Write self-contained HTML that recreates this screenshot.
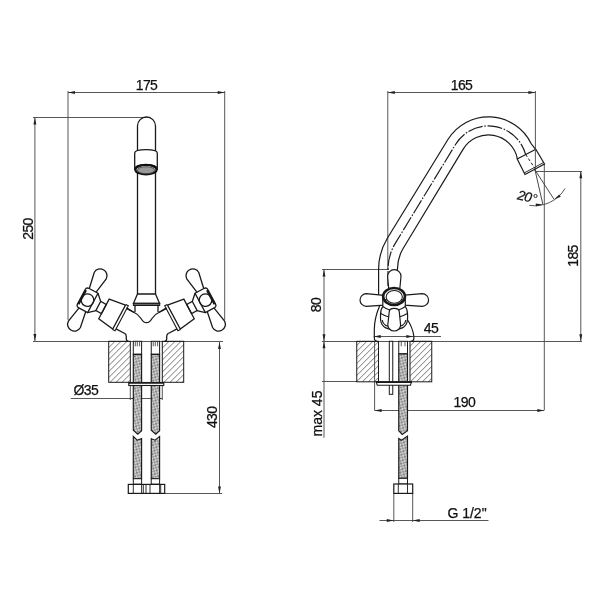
<!DOCTYPE html>
<html><head><meta charset="utf-8"><style>
html,body{margin:0;padding:0;background:#fff;width:600px;height:600px;overflow:hidden}
svg{display:block;will-change:transform}
text{font-family:"Liberation Sans",sans-serif;fill:#111;stroke:#111;stroke-width:0.25px}
</style></head><body>
<svg width="600" height="600" viewBox="0 0 600 600">
<line x1="68" y1="92.5" x2="224.7" y2="92.5" stroke="#444" stroke-width="0.9" fill="none"/>
<polygon points="68.00,92.50 75.00,91.05 75.00,93.95" fill="#222"/>
<polygon points="224.70,92.50 217.70,93.95 217.70,91.05" fill="#222"/>
<text x="146.5" y="90" font-size="14" text-anchor="middle" letter-spacing="-0.6">175</text>
<line x1="68" y1="91" x2="68" y2="320" stroke="#444" stroke-width="0.9" fill="none"/>
<line x1="224.7" y1="91" x2="224.7" y2="320" stroke="#444" stroke-width="0.9" fill="none"/>
<line x1="34.9" y1="117.5" x2="34.9" y2="341" stroke="#444" stroke-width="0.9" fill="none"/>
<polygon points="34.90,117.50 36.35,124.50 33.45,124.50" fill="#222"/>
<polygon points="34.90,341.00 33.45,334.00 36.35,334.00" fill="#222"/>
<line x1="33" y1="117.5" x2="146" y2="117.5" stroke="#444" stroke-width="0.9" fill="none"/>
<text x="32.5" y="229" font-size="14" text-anchor="middle" letter-spacing="-0.6" transform="rotate(-90 32.5 229)">250</text>
<line x1="33" y1="341.5" x2="223" y2="341.5" stroke="#444" stroke-width="0.9" fill="none"/>
<line x1="219.5" y1="342" x2="219.5" y2="493.5" stroke="#444" stroke-width="0.9" fill="none"/>
<polygon points="219.50,342.00 220.95,349.00 218.05,349.00" fill="#222"/>
<polygon points="219.50,493.50 218.05,486.50 220.95,486.50" fill="#222"/>
<text x="217.5" y="417.3" font-size="14" text-anchor="middle" letter-spacing="-0.6" transform="rotate(-90 217.5 417.3)">430</text>
<line x1="164" y1="493.5" x2="222" y2="493.5" stroke="#444" stroke-width="0.9" fill="none"/>
<text x="73.5" y="394.5" font-size="14" text-anchor="start" letter-spacing="-0.6">Ø35</text>
<line x1="70.8" y1="398.5" x2="162" y2="398.5" stroke="#444" stroke-width="0.9" fill="none"/>
<polygon points="130.30,398.50 137.30,397.05 137.30,399.95" fill="#222"/>
<polygon points="162.30,398.50 155.30,399.95 155.30,397.05" fill="#222"/>
<line x1="130.3" y1="385" x2="130.3" y2="400" stroke="#444" stroke-width="0.9" fill="none"/>
<line x1="162.3" y1="385" x2="162.3" y2="400" stroke="#444" stroke-width="0.9" fill="none"/>
<line x1="387.8" y1="92.5" x2="535.4" y2="92.5" stroke="#444" stroke-width="0.9" fill="none"/>
<polygon points="387.80,92.50 394.80,91.05 394.80,93.95" fill="#222"/>
<polygon points="535.40,92.50 528.40,93.95 528.40,91.05" fill="#222"/>
<text x="461.5" y="89.5" font-size="14" text-anchor="middle" letter-spacing="-0.6">165</text>
<line x1="387.8" y1="91" x2="387.8" y2="270" stroke="#444" stroke-width="0.9" fill="none"/>
<line x1="536" y1="171.5" x2="582" y2="171.5" stroke="#444" stroke-width="0.9" fill="none"/>
<line x1="580.8" y1="171.3" x2="580.8" y2="341.2" stroke="#444" stroke-width="0.9" fill="none"/>
<polygon points="580.80,171.30 582.25,178.30 579.35,178.30" fill="#222"/>
<polygon points="580.80,341.20 579.35,334.20 582.25,334.20" fill="#222"/>
<text x="577.7" y="256" font-size="14" text-anchor="middle" letter-spacing="-0.6" transform="rotate(-90 577.7 256)">185</text>
<line x1="544.3" y1="164" x2="544.3" y2="410" stroke="#444" stroke-width="0.9" fill="none"/>
<line x1="324" y1="269.5" x2="324" y2="341.25" stroke="#444" stroke-width="0.9" fill="none"/>
<polygon points="324.00,269.50 325.45,276.50 322.55,276.50" fill="#222"/>
<polygon points="324.00,341.25 322.55,334.25 325.45,334.25" fill="#222"/>
<line x1="322" y1="269.5" x2="389" y2="269.5" stroke="#444" stroke-width="0.9" fill="none"/>
<text x="321" y="305" font-size="14" text-anchor="middle" letter-spacing="-0.6" transform="rotate(-90 321 305)">80</text>
<line x1="322" y1="341.5" x2="582" y2="341.5" stroke="#444" stroke-width="0.9" fill="none"/>
<line x1="324" y1="341.3" x2="324" y2="437.8" stroke="#444" stroke-width="0.9" fill="none"/>
<polygon points="324.00,341.30 325.45,348.30 322.55,348.30" fill="#222"/>
<line x1="322" y1="381.5" x2="357" y2="381.5" stroke="#444" stroke-width="0.9" fill="none"/>
<text x="322" y="413.5" font-size="14" text-anchor="middle" letter-spacing="0" transform="rotate(-90 322 413.5)">max 45</text>
<line x1="373.75" y1="336.5" x2="441" y2="336.5" stroke="#444" stroke-width="0.9" fill="none"/>
<polygon points="373.75,336.50 380.75,335.05 380.75,337.95" fill="#222"/>
<polygon points="413.30,336.50 406.30,337.95 406.30,335.05" fill="#222"/>
<text x="431" y="333.3" font-size="14" text-anchor="middle" letter-spacing="-0.6">45</text>
<line x1="374.6" y1="341" x2="374.6" y2="410.5" stroke="#444" stroke-width="0.9" fill="none"/>
<line x1="374.6" y1="410.5" x2="544.3" y2="410.5" stroke="#444" stroke-width="0.9" fill="none"/>
<polygon points="374.60,410.50 381.60,409.05 381.60,411.95" fill="#222"/>
<polygon points="544.30,410.50 537.30,411.95 537.30,409.05" fill="#222"/>
<text x="464.3" y="407" font-size="14" text-anchor="middle" letter-spacing="-0.6">190</text>
<line x1="393.8" y1="493" x2="393.8" y2="522" stroke="#444" stroke-width="0.9" fill="none"/>
<line x1="412.7" y1="493" x2="412.7" y2="522" stroke="#444" stroke-width="0.9" fill="none"/>
<line x1="379.5" y1="520.5" x2="488.5" y2="520.5" stroke="#444" stroke-width="0.9" fill="none"/>
<polygon points="393.80,520.50 386.80,521.95 386.80,519.05" fill="#222"/>
<polygon points="412.70,520.50 419.70,519.05 419.70,521.95" fill="#222"/>
<text x="467" y="518" font-size="14" text-anchor="middle" letter-spacing="0">G 1/2"</text>
<path d="M137.5,294 V126 A9,9 0 0 1 155.5,126 V294" stroke="#1a1a1a" stroke-width="1.3" fill="none"/>
<path d="M134.7,153 Q134.7,149.7 146,149.7 Q157.3,149.7 157.3,153 V170 Q157.3,164.5 146,164.5 Q134.7,164.5 134.7,170 Z" fill="#fff" stroke="#1a1a1a" stroke-width="1.3" />
<ellipse cx="146" cy="169.7" rx="10.6" ry="4.7" fill="#fff" stroke="#111" stroke-width="2.2"/>
<ellipse cx="146" cy="170.2" rx="8.6" ry="3.5" fill="#999" stroke="#333" stroke-width="0.8"/>
<path d="M137.5,294 H155.5 L159.5,303.3 H133.5 Z" stroke="#1a1a1a" stroke-width="1.3" fill="none"/>
<rect x="133.4" y="303.3" width="26.3" height="2.2" fill="#666" stroke="#1a1a1a" stroke-width="1"/>
<path d="M126.5,307.9 L134.2,312.5 Q138,314 141,318.5 Q143.5,322.7 146.5,322.7 Q149.5,322.7 152,318.5 Q155,314 158.8,312.5 L166.5,307.9" stroke="#1a1a1a" stroke-width="1.3" fill="none"/>
<path d="M135,305.3 V312 M158,305.3 V312" stroke="#1a1a1a" stroke-width="1.3" fill="none"/>
<path d="M124.3,333.2 Q126.3,334.2 126.3,336.5 V339 Q126.5,341.3 128.5,341.4 M168.7,333.2 Q166.7,334.2 166.7,336.5 V339 Q166.5,341.3 164.5,341.4" stroke="#1a1a1a" stroke-width="1.3" fill="none"/>
<g transform="translate(87.5,300.1) rotate(28)"><path d="M-3.8,-10.8 L-7,-27.5 A6.8,6.8 0 0 1 6.6,-27.5 L3.8,-10.8" stroke="#1a1a1a" stroke-width="1.3" fill="none"/>
<path d="M-3.8,10.8 L-7,27.5 A6.8,6.8 0 0 0 6.6,27.5 L3.8,10.8" stroke="#1a1a1a" stroke-width="1.3" fill="none"/>
<path d="M-4,-11 H6 V11 H-4 Q-7,11 -7,8 V-8 Q-7,-11 -4,-11 Z" fill="#fff" stroke="#1a1a1a" stroke-width="1.3" />
<path d="M-6,-8 V8" stroke="#1a1a1a" stroke-width="2.2"/>
<circle cx="0" cy="0" r="6.3" stroke="#1a1a1a" stroke-width="1.3" fill="none"/>
<path d="M6,-11 L12.3,-5 M6,11 L12.5,5.3" stroke="#1a1a1a" stroke-width="1.3" fill="none"/>
<path d="M12.3,-5 H18.6 V5.3 H12.3 Z" stroke="#1a1a1a" stroke-width="1.3" fill="none"/>
<path d="M18.7,-11 L35.9,-13.5 V13.8 L18.7,11.2 Z" stroke="#1a1a1a" stroke-width="1.3" fill="none"/>
<path d="M35.9,-14.1 H38.7 V14.1 H35.9" stroke="#1a1a1a" stroke-width="1.1" fill="none"/>
<path d="M38.7,-11 H47 M38.7,12 H48" stroke="#1a1a1a" stroke-width="1.3" fill="none"/></g>
<g transform="translate(293,0) scale(-1,1)"><g transform="translate(87.5,300.1) rotate(28)"><path d="M-3.8,-10.8 L-7,-27.5 A6.8,6.8 0 0 1 6.6,-27.5 L3.8,-10.8" stroke="#1a1a1a" stroke-width="1.3" fill="none"/>
<path d="M-3.8,10.8 L-7,27.5 A6.8,6.8 0 0 0 6.6,27.5 L3.8,10.8" stroke="#1a1a1a" stroke-width="1.3" fill="none"/>
<path d="M-4,-11 H6 V11 H-4 Q-7,11 -7,8 V-8 Q-7,-11 -4,-11 Z" fill="#fff" stroke="#1a1a1a" stroke-width="1.3" />
<path d="M-6,-8 V8" stroke="#1a1a1a" stroke-width="2.2"/>
<circle cx="0" cy="0" r="6.3" stroke="#1a1a1a" stroke-width="1.3" fill="none"/>
<path d="M6,-11 L12.3,-5 M6,11 L12.5,5.3" stroke="#1a1a1a" stroke-width="1.3" fill="none"/>
<path d="M12.3,-5 H18.6 V5.3 H12.3 Z" stroke="#1a1a1a" stroke-width="1.3" fill="none"/>
<path d="M18.7,-11 L35.9,-13.5 V13.8 L18.7,11.2 Z" stroke="#1a1a1a" stroke-width="1.3" fill="none"/>
<path d="M35.9,-14.1 H38.7 V14.1 H35.9" stroke="#1a1a1a" stroke-width="1.1" fill="none"/>
<path d="M38.7,-11 H47 M38.7,12 H48" stroke="#1a1a1a" stroke-width="1.3" fill="none"/></g></g>
<defs><pattern id="hatch" patternUnits="userSpaceOnUse" width="4.24" height="4.24" patternTransform="rotate(45)"><line x1="0" y1="0" x2="0" y2="4.24" stroke="#3a3a3a" stroke-width="1"/></pattern><pattern id="stip" patternUnits="userSpaceOnUse" width="4" height="4" patternTransform="rotate(30)"><rect width="4" height="4" fill="#9a9a9a"/><circle cx="1" cy="1" r="0.9" fill="#eee"/><circle cx="3" cy="3" r="0.9" fill="#ddd"/><circle cx="3" cy="1" r="0.6" fill="#444"/></pattern></defs>
<rect x="108.7" y="341.3" width="21.6" height="41" fill="url(#hatch)" stroke="#1a1a1a" stroke-width="1" />
<rect x="162.3" y="341.3" width="21.4" height="41" fill="url(#hatch)" stroke="#1a1a1a" stroke-width="1" />
<rect x="133.3" y="341.3" width="8.299999999999983" height="13" fill="#fff" stroke="#1a1a1a" stroke-width="1"/>
<path d="M135.3,341.3 V346.3 M137.3,341.3 V346.3 M139.6,341.3 V346.3" stroke="#333" stroke-width="0.8"/>
<path d="M133.3,354.3 V430.3 L137.75,434.3 L141.6,430.8 V354.3 Z" fill="url(#stip)" stroke="#1a1a1a" stroke-width="1.15"/>
<path d="M133.3,436.4 L137.14999999999998,440.2 L141.6,438.6 V478.7 H133.3 Z" fill="url(#stip)" stroke="#1a1a1a" stroke-width="1.15"/>
<rect x="133.3" y="478.7" width="8.299999999999983" height="5.5" fill="#fff" stroke="#1a1a1a" stroke-width="1"/>
<rect x="151.25" y="341.3" width="8.349999999999994" height="13" fill="#fff" stroke="#1a1a1a" stroke-width="1"/>
<path d="M153.25,341.3 V346.3 M155.25,341.3 V346.3 M157.6,341.3 V346.3" stroke="#333" stroke-width="0.8"/>
<path d="M151.25,354.3 V430.3 L155.72500000000002,434.3 L159.6,430.8 V354.3 Z" fill="url(#stip)" stroke="#1a1a1a" stroke-width="1.15"/>
<path d="M151.25,438.7 L155.125,440.2 L159.6,436.4 V478.7 H151.25 Z" fill="url(#stip)" stroke="#1a1a1a" stroke-width="1.15"/>
<rect x="151.25" y="478.7" width="8.349999999999994" height="5.5" fill="#fff" stroke="#1a1a1a" stroke-width="1"/>
<rect x="128.75" y="382.5" width="35" height="3" fill="#fff" stroke="#1a1a1a" stroke-width="1.1"/>
<line x1="128.75" y1="382.8" x2="163.75" y2="382.8" stroke="#1a1a1a" stroke-width="1.8"/>
<rect x="128.3" y="484.4" width="36.4" height="9" fill="#fff" stroke="#1a1a1a" stroke-width="1.2"/>
<path d="M133.3,484.4 V493.4 M141.6,484.4 V493.4 M143.3,484.4 V493.4 M146,484.4 V493.4 M150,484.4 V493.4 M159.6,484.4 V493.4 M160.7,484.4 V493.4" stroke="#1a1a1a" stroke-width="0.9"/>
<path d="M378.6,296 V269.4 A60,60 0 0 1 387.36,238.2 L447.75,139.75 A47.6,47.6 0 0 1 531.25,143.75 L535.6,149.4" stroke="#1a1a1a" stroke-width="1.2" fill="none"/>
<path d="M397.4,290 V269.4 A41.2,41.2 0 0 1 403.4,248 L463.2,149.16 A29.5,29.5 0 0 1 517.4,158.8" stroke="#1a1a1a" stroke-width="1.2" fill="none"/>
<path d="M388,286 V269.4 A50.6,50.6 0 0 1 395.4,243.1 L455.5,144.5 A38.5,38.5 0 0 1 525.6,154.4" stroke="#1a1a1a" stroke-width="1.15" fill="none" stroke-dasharray="15 1.6 1.6 1.6"/>
<polygon points="517.2,159 535.8,149.2 544.5,164 525,174.5" fill="#fff" stroke="#1a1a1a" stroke-width="1.2"/>
<line x1="543.6" y1="162.5" x2="524.1" y2="173" stroke="#1a1a1a" stroke-width="0.9"/>
<path d="M525.6,154.4 L536,170" stroke="#1a1a1a" stroke-width="1" stroke-dasharray="3 2"/>
<line x1="535.4" y1="91" x2="535.4" y2="171" stroke="#444" stroke-width="0.9" fill="none"/>
<line x1="535" y1="170" x2="542.8" y2="204.1" stroke="#333" stroke-width="0.9"/>
<line x1="535" y1="170" x2="554.1" y2="199.4" stroke="#333" stroke-width="0.9"/>
<path d="M529.3,205.3 A35,35 0 0 0 565,188.5" stroke="#444" stroke-width="0.9" fill="none"/>
<polygon points="542.80,204.60 535.88,206.40 535.74,203.50" fill="#222"/>
<polygon points="554.10,199.40 559.20,194.39 560.77,196.83" fill="#222"/>
<text x="516.8" y="199.3" font-size="13.5" font-style="italic" letter-spacing="-0.6" transform="rotate(12 516.8 199.3)">20</text>
<circle cx="535.5" cy="196" r="1.6" fill="none" stroke="#1a1a1a" stroke-width="0.9"/>
<path d="M379.7,305.7 Q374.3,318 374.3,330 V337.8 Q374.3,341.3 377.3,341.4 M406.7,318.5 Q412.8,327.5 413.9,336.5 Q414.3,341.2 411,341.4" stroke="#1a1a1a" stroke-width="1.2" fill="none"/>
<path d="M389,292 L387.6,276.3 A6.7,6.7 0 0 1 401,276.3 L399.5,292 Z" stroke="#1a1a1a" stroke-width="1.2" fill="#fff"/>
<path d="M384,295.3 L366.3,293.7 A6.3,6.3 0 0 0 366.3,306.3 L384,305.2 Z" stroke="#1a1a1a" stroke-width="1.2" fill="#fff"/>
<path d="M404.5,295.2 L422.3,293.7 A6.3,6.3 0 0 1 422.3,306.3 L404.5,305.2 Z" stroke="#1a1a1a" stroke-width="1.2" fill="#fff"/>
<path d="M382.8,298 V306.5 Q380.5,309.5 380.5,315 V318 Q380.5,329.5 394,329.5 Q407.6,329.5 407.6,318 V315 Q407.6,309.5 405.3,306.5 V298 Z" stroke="#1a1a1a" stroke-width="1.2" fill="#fff"/>
<path d="M382.8,306.5 Q394,314.5 405.3,306.5 M380.8,313.5 Q394,321.5 407.3,313.5 M382.2,320 Q383,327 394,327 Q405,327 405.9,320" stroke="#1a1a1a" stroke-width="1.2" fill="none"/>
<ellipse cx="394.05" cy="296.5" rx="10.9" ry="8.5" fill="#fff" stroke="#1a1a1a" stroke-width="2.6"/>
<ellipse cx="394.25" cy="296.9" rx="8.1" ry="6.4" fill="#fff" stroke="#1a1a1a" stroke-width="1.1"/>
<path d="M385.3,299 Q386.5,305 394.2,305 Q402,305 403.2,299" stroke="#1a1a1a" stroke-width="0.9" fill="none"/>
<path d="M389.2,312 Q389.2,308.4 394.2,308.4 Q399.3,308.4 399.3,312 L400.6,325 A6.4,6 0 0 1 387.8,325 Z" stroke="#1a1a1a" stroke-width="1.2" fill="#fff"/>
<rect x="356.75" y="341.3" width="21.75" height="40.5" fill="url(#hatch)" stroke="#1a1a1a" stroke-width="1"/>
<rect x="410" y="341.3" width="21.75" height="40.5" fill="url(#hatch)" stroke="#1a1a1a" stroke-width="1"/>
<rect x="389.3" y="341.3" width="3.45" height="53" fill="#fff" stroke="#1a1a1a" stroke-width="1"/>
<rect x="398.75" y="341.3" width="8.75" height="12.5" fill="#fff" stroke="#1a1a1a" stroke-width="1"/>
<path d="M401.25,341.3 V346.3 M405.0,341.3 V346.3" stroke="#333" stroke-width="0.8"/>
<path d="M398.75,353.8 V430.75 L402.225,434.5 L407.5,430.75 V353.8 Z" fill="url(#stip)" stroke="#1a1a1a" stroke-width="1.15"/>
<path d="M398.75,438.5 L401.525,440.3 L407.5,436 V478.3 H398.75 Z" fill="url(#stip)" stroke="#1a1a1a" stroke-width="1.15"/>
<rect x="398.75" y="478.3" width="8.75" height="5.7" fill="#fff" stroke="#1a1a1a" stroke-width="1"/>
<path d="M376.25,381.8 H411.5 L410.5,385.25 H377.25 Z" fill="#fff" stroke="#1a1a1a" stroke-width="1.1"/>
<line x1="376.25" y1="382.1" x2="411.5" y2="382.1" stroke="#1a1a1a" stroke-width="1.8"/>
<rect x="393.8" y="484" width="18.9" height="9.4" fill="#fff" stroke="#1a1a1a" stroke-width="1.2"/>
<path d="M398.3,484 V493.4 M407.5,484 V493.4" stroke="#1a1a1a" stroke-width="0.9"/>
</svg></body></html>
